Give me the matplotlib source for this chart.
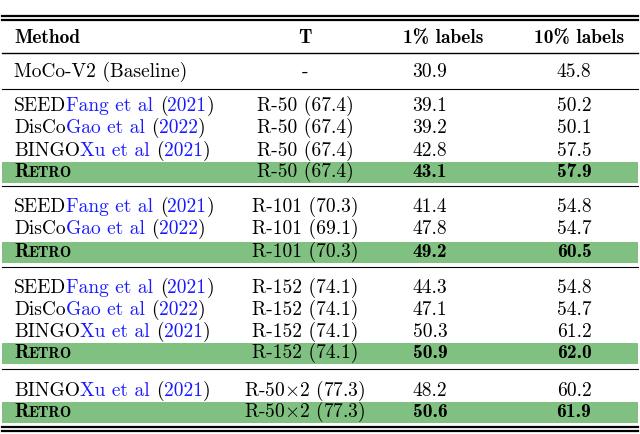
import matplotlib
matplotlib.use("Agg")
import matplotlib.pyplot as plt

plt.rcParams['mathtext.fontset'] = 'cm'
FS = 14
BLUE = '#1a1aff'
GREEN = '#80c080'

methods = ["MoCo-V2 (Baseline)",
           "SEED|Fang et al|2021", "DisCo|Gao et al|2022", "BINGO|Xu et al|2021", "RETRO",
           "SEED|Fang et al|2021", "DisCo|Gao et al|2022", "RETRO",
           "SEED|Fang et al|2021", "DisCo|Gao et al|2022", "BINGO|Xu et al|2021", "RETRO",
           "BINGO|Xu et al|2021", "RETRO"]
teachers = ["-", "R-50 (67.4)", "R-50 (67.4)", "R-50 (67.4)", "R-50 (67.4)",
            "R-101 (70.3)", "R-101 (69.1)", "R-101 (70.3)",
            "R-152 (74.1)", "R-152 (74.1)", "R-152 (74.1)", "R-152 (74.1)",
            r"R-50$\times$2 (77.3)", r"R-50$\times$2 (77.3)"]
top1 = ["30.9", "39.1", "39.2", "42.8", "43.1", "41.4", "47.8", "49.2",
        "44.3", "47.1", "50.3", "50.9", "48.2", "50.6"]
top10 = ["45.8", "50.2", "50.1", "57.5", "57.9", "54.8", "54.7", "60.5",
         "54.8", "54.7", "61.2", "62.0", "60.2", "61.9"]

ys = [72, 106, 128, 151, 172, 207, 229, 252, 288, 310, 332, 353, 391, 412]
rules = [(16, 1.6), (20, 1.6), (53, 1.0), (89, 0.8), (186, 0.8), (267, 0.8), (369, 0.8), (427, 1.6), (431, 1.6)]

fig = plt.figure(figsize=(6.4, 4.34), dpi=100)
ax = fig.add_axes([0, 0, 1, 1])
ax.set_xlim(0, 640)
ax.set_ylim(434, 0)
ax.axis('off')

for y, lw in rules:
    ax.plot([2, 638], [y, y], color='black', lw=lw)

ax.text(14, 38, "Method", fontfamily='cmb10', fontsize=FS, va='center')
ax.text(305, 38, "T", fontfamily='cmb10', fontsize=FS, va='center', ha='center')
ax.text(443, 38, "1% labels", fontfamily='cmb10', fontsize=FS, va='center', ha='center')
ax.text(579, 38, "10% labels", fontfamily='cmb10', fontsize=FS, va='center', ha='center')

fig.canvas.draw()
r = fig.canvas.get_renderer()

def pieces(x, y, parts):
    for s, fam, col, fs in parts:
        t = ax.text(x, y, s, fontfamily=fam, color=col, fontsize=fs, va='baseline')
        bb = t.get_window_extent(renderer=r)
        x += bb.width * 640 / fig.bbox.width

for m, t, a, b, y in zip(methods, teachers, top1, top10, ys):
    bold = m == "RETRO"
    yb = y + 5
    if bold:
        ax.add_patch(plt.Rectangle((2, y - 10.5), 636, 21, color=GREEN, lw=0, zorder=0))
        pieces(14, yb, [("R", 'cmb10', 'black', FS), ("ETRO", 'cmb10', 'black', FS * 0.78)])
    elif '|' in m:
        name, auth, yr = m.split('|')
        pieces(14, yb, [(name, 'cmr10', 'black', FS), (auth + ' ', 'cmr10', BLUE, FS),
                        ("(", 'cmr10', 'black', FS), (yr, 'cmr10', BLUE, FS), (")", 'cmr10', 'black', FS)])
    else:
        ax.text(14, yb, m, fontfamily='cmr10', fontsize=FS, va='baseline')
    ax.text(305, yb, t, fontfamily='cmr10', fontsize=FS, va='baseline', ha='center')
    fam = 'cmb10' if bold else 'cmr10'
    ax.text(430, yb, a, fontfamily=fam, fontsize=FS, va='baseline', ha='center')
    ax.text(574, yb, b, fontfamily=fam, fontsize=FS, va='baseline', ha='center')

fig.savefig("out.png", dpi=100)
